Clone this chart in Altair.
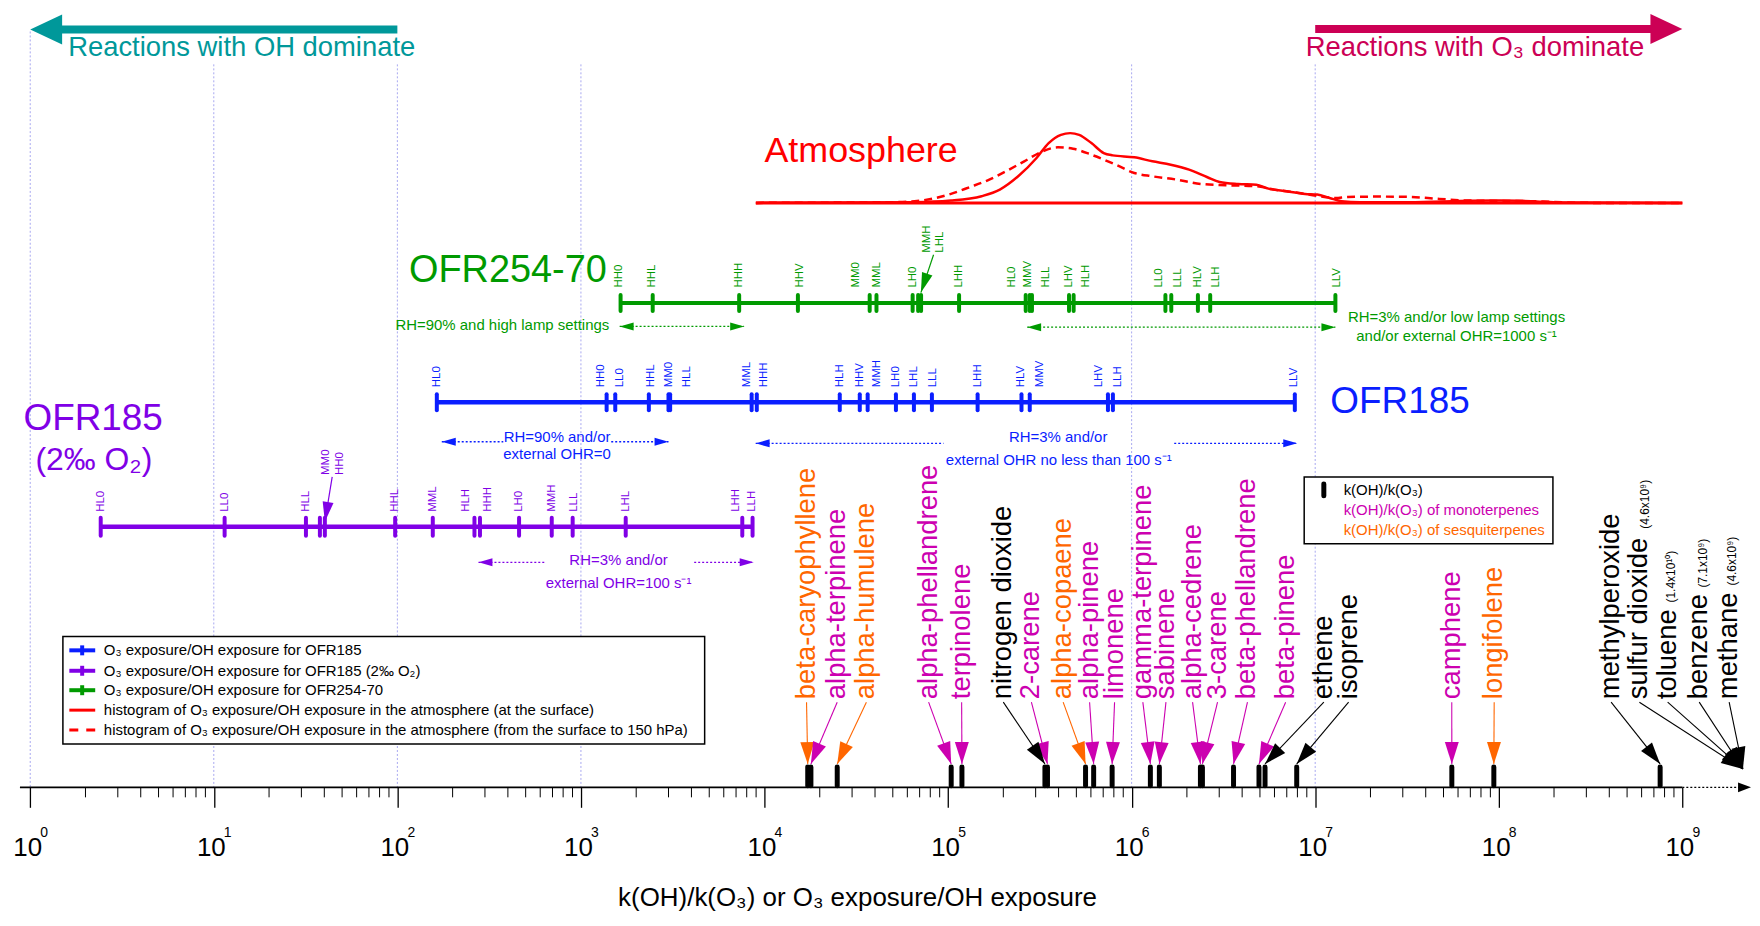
import math
import altair as alt
import pandas as pd

FONT = "Liberation Sans"
TEAL, CRIMSON = "#00989A", "#CC0055"
GREEN, BLUE, PURPLE, RED = "#009A00", "#0A1EFF", "#8000E6", "#FF0000"
MAGENTA, ORANGE, BLACK, GRID = "#CC00B0", "#FF6600", "#000000", "#A8A8F0"

# ---------------- data: log10 of O3 exposure / OH exposure ----------------
OFR254_CASES = ["HH0", "HHL", "HHH", "HHV", "MM0", "MML", "LH0", "MMH", "LHL", "LHH",
                "HL0", "MMV", "HLL", "LHV", "HLH", "LL0", "LLL", "HLV", "LLH", "LLV"]
OFR254_LOG10 = [3.216, 3.391, 3.862, 4.182, 4.573, 4.610, 4.807, 4.837, 4.853, 5.060,
                5.423, 5.445, 5.457, 5.659, 5.684, 6.184, 6.216, 6.361, 6.428, 7.110]

OFR185_CASES = ["HL0", "HH0", "LL0", "HHL", "MM0", "HLL", "MML", "HHH", "HLH", "HHV",
                "MMH", "LH0", "LHL", "LLL", "LHH", "HLV", "MMV", "LHV", "LLH", "LLV"]
OFR185_LOG10 = [2.215, 3.140, 3.187, 3.370, 3.477, 3.486, 3.930, 3.958, 4.410, 4.519,
                4.562, 4.716, 4.814, 4.912, 5.161, 5.400, 5.445, 5.871, 5.898, 6.889]

OFR185O2_CASES = ["HL0", "LL0", "HLL", "MM0", "HH0", "HHL", "MML", "HLH", "HHH", "LH0",
                  "MMH", "LLL", "LHL", "LHH", "LLH"]
OFR185O2_LOG10 = [0.384, 1.059, 1.502, 1.578, 1.605, 1.988, 2.193, 2.420, 2.450, 2.663,
                  2.841, 2.955, 3.244, 3.879, 3.935]

# atmosphere histograms (relative frequency)
ATM_SURF_LOG10 = [3.953, 4.817, 5.016, 5.183, 5.282, 5.382, 5.482, 5.548, 5.615, 5.665,
                  5.714, 5.781, 5.848, 5.897, 6.014, 6.113, 6.213, 6.313, 6.413, 6.479,
                  6.579, 6.679, 6.745, 6.845, 6.945, 7.011, 7.078, 7.144, 7.244, 7.510,
                  7.842, 8.008, 8.175, 8.341, 9.0]
ATM_SURF_FREQ = [0, 0.01, 0.033, 0.096, 0.19, 0.381, 0.643, 0.857, 0.976, 1.0,
                 0.976, 0.857, 0.714, 0.681, 0.653, 0.596, 0.547, 0.476, 0.367, 0.30,
                 0.271, 0.261, 0.204, 0.167, 0.129, 0.119, 0.071, 0.024, 0.01, 0.01,
                 0.029, 0.033, 0.024, 0.004, 0]
ATM_COL_LOG10 = [3.953, 4.684, 4.817, 4.917, 5.016, 5.116, 5.216, 5.315, 5.415, 5.515,
                 5.598, 5.681, 5.781, 5.914, 6.014, 6.113, 6.246, 6.379, 6.512, 6.679,
                 6.778, 6.911, 7.011, 7.111, 7.177, 7.344, 7.510, 7.676, 7.842, 8.175,
                 8.507, 9.0]
ATM_COL_FREQ = [0, 0.01, 0.024, 0.061, 0.129, 0.224, 0.324, 0.453, 0.596, 0.739,
                0.796, 0.776, 0.69, 0.547, 0.429, 0.381, 0.333, 0.271, 0.253, 0.239,
                0.19, 0.143, 0.10, 0.071, 0.086, 0.09, 0.086, 0.057, 0.033, 0.024,
                0, 0]

# k(OH)/k(O3) of compounds
COMPOUNDS = ["beta-caryophyllene", "alpha-terpinene", "alpha-humulene", "alpha-phellandrene",
             "terpinolene", "nitrogen dioxide", "2-carene", "alpha-copaene", "alpha-pinene",
             "limonene", "gamma-terpinene", "sabinene", "alpha-cedrene", "3-carene",
             "beta-phellandrene", "beta-pinene", "ethene", "isoprene", "camphene",
             "longifolene", "methylperoxide", "sulfur dioxide", "toluene", "benzene", "methane"]
COMPOUND_RATIO = [1.72e4, 1.79e4, 2.49e4, 1.04e5, 1.19e5, 3.37e5, 3.48e5, 5.61e5, 6.21e5,
                  7.83e5, 1.265e6, 1.416e6, 2.37e6, 2.43e6, 3.59e6, 4.94e6, 5.33e6, 7.93e6,
                  5.55e7, 9.40e7, 7.57e8, 4.6e9, 1.4e10, 7.1e9, 4.6e9]
COMPOUND_CLASS = ["sesq", "mono", "sesq", "mono", "mono", "other", "mono", "sesq", "mono",
                  "mono", "mono", "mono", "mono", "mono", "mono", "mono", "other", "other",
                  "mono", "sesq", "other", "other", "other", "other", "other"]
OFFSCALE_NOTE = {"sulfur dioxide": "(4.6x10⁹)", "toluene": "(1.4x10¹⁰)",
                 "benzene": "(7.1x10⁹)", "methane": "(4.6x10⁹)"}

# ---------------- layout (label placement, log10 units / page px) ----------------
OFR254_LABEL_AT = [3.205, 3.386, 3.862, 4.193, 4.501, 4.613, 4.807, 4.888, 4.957, 5.060,
                   5.346, 5.437, 5.536, 5.659, 5.749, 6.151, 6.251, 6.360, 6.459, 7.119]
OFR185_LABEL_AT = [2.215, 3.111, 3.211, 3.382, 3.482, 3.578, 3.907, 3.998, 4.410, 4.519,
                   4.613, 4.716, 4.814, 4.917, 5.165, 5.400, 5.499, 5.822, 5.925, 6.884]
OFR185O2_LABEL_AT = [0.384, 1.059, 1.502, 1.610, 1.686, 1.988, 2.193, 2.375, 2.496, 2.664,
                     2.841, 2.963, 3.244, 3.846, 3.933]
COMPOUND_LABEL_AT = [4.229, 4.396, 4.555, 4.894, 5.074, 5.301, 5.454, 5.627, 5.771, 5.907,
                     6.061, 6.187, 6.332, 6.468, 6.631, 6.839, 7.047, 7.182, 7.744, 7.975,
                     8.612, 8.766, 8.920, 9.092, 9.255]
NOTE_AT = {"sulfur dioxide": (8.794, 529), "toluene": (8.938, 603),
           "benzene": (9.110, 588), "methane": (9.273, 586)}
GRID_DECADES = [0, 1, 2, 3, 6, 7]

W, H = 1750, 904
X0, DEC = 30.3, 184.2          # page px of 10^0, px per decade


def px(e):
    return X0 + DEC * e


XS = alt.Scale(type="log", domain=[10 ** ((8 - X0) / DEC), 10 ** ((8 + W - X0) / DEC)], nice=False)
YS = alt.Scale(domain=[8, 8 + H], range=[0, H], nice=False, zero=False)
HS = alt.Scale(domain=[0, 1], range=[194, 124], nice=False, zero=False)

AX = alt.Axis(values=[10 ** k for k in range(10)], domain=False, grid=False, ticks=True,
              tickSize=20, tickWidth=1.3, tickColor=BLACK, labelExpr="'10'", labelFont=FONT,
              labelFontSize=26, labelColor=BLACK, labelPadding=48, labelBaseline="alphabetic",
              labelOffset=-3, labelFlush=False, labelOverlap=False, labelBound=False,
              offset=-(H - (788.5 - 8)),
              title="k(OH)/k(O₃) or O₃ exposure/OH exposure", titleFont=FONT, titleFontSize=26,
              titleFontWeight="normal", titleColor=BLACK, titleX=852, titleY=118.5,
              titleAlign="center", titleBaseline="alphabetic")

layers = []


def X(f="x"):
    return alt.X(f"{f}:Q", scale=XS, axis=AX)


def Y(f="y", scale=YS):
    return alt.Y(f"{f}:Q", scale=scale, axis=None)


def segs(rows, color, width, dash=None, cap="butt"):
    df = pd.DataFrame(rows, columns=["x", "x2", "y", "y2"])
    df["x"] = 10.0 ** df["x"]
    df["x2"] = 10.0 ** df["x2"]
    kw = dict(color=color, strokeWidth=width, strokeCap=cap)
    if dash:
        kw["strokeDash"] = dash
    layers.append(alt.Chart(df).mark_rule(**kw).encode(x=X(), x2="x2:Q", y=Y(), y2="y2:Q"))


def heads(rows, color, length, width):
    a = width / length
    shape = f"M0,0L{-a:.3f},2L{a:.3f},2Z"
    df = pd.DataFrame(rows, columns=["x", "y", "ang"])
    df["x"] = 10.0 ** df["x"]
    layers.append(alt.Chart(df).mark_point(shape=shape, size=length ** 2, filled=True, opacity=1,
                                           strokeWidth=0, color=color)
                  .encode(x=X(), y=Y(), angle=alt.Angle("ang:Q", scale=None)))


def texts(rows, size, color, angle=0, align="center", baseline="middle", dx=0):
    df = pd.DataFrame(rows, columns=["x", "y", "t"])
    df["x"] = 10.0 ** df["x"]
    enc = dict(x=X(), y=Y(), text="t:N")
    kw = dict(font=FONT, fontSize=size, align=align, baseline=baseline)
    if angle:
        kw["angle"] = angle
    if dx:
        kw["dx"] = dx
    if isinstance(color, list):
        df["c"] = color
        enc["color"] = alt.Color("c:N", scale=None)
    else:
        kw["color"] = color
    layers.append(alt.Chart(df).mark_text(**kw).encode(**enc))


def direction(x1, y1, x2, y2):
    return math.degrees(math.atan2(px(x2) - px(x1), -(y2 - y1))) % 360


def box(x1, x2, y1, y2):
    df = pd.DataFrame({"x": [10 ** x1], "x2": [10 ** x2], "y": [y1], "y2": [y2]})
    layers.append(alt.Chart(df).mark_rect(fill="white", stroke="black", strokeWidth=1.5)
                  .encode(x=X(), x2="x2:Q", y=Y(), y2="y2:Q"))


def dotted_double(x_left, x_mid1, x_mid2, x_right, y, color):
    rows = []
    if x_mid1 is None:
        rows.append((x_left, x_right, y, y))
    else:
        rows += [(x_left, x_mid1, y, y), (x_mid2, x_right, y, y)]
    segs(rows, color, 1.3, dash=[2, 2])
    heads([(x_left, y, 270), (x_right, y, 90)], color, 14, 8)


def ofr_row(vals, cases, label_at, raised, y, color, half, lw, lab_y, raised_y, raised_arrow):
    segs([(min(vals), max(vals), y, y)], color, lw)
    segs([(v, v, y - half, y + half) for v in vals], color, 4, cap="round")
    texts([(lx, lab_y, c) for lx, c in zip(label_at, cases) if c not in raised], 11.5, color,
          angle=270, align="left")
    if raised:
        texts([(lx, raised_y, c) for lx, c in zip(label_at, cases) if c in raised], 11.5, color,
              angle=270, align="left")
        x1, y1, x2, y2 = raised_arrow
        segs([(x1, x2, y1, y2)], color, 1.2)
        heads([(x2, y2, direction(x1, y1, x2, y2))], color, 20, 11)


# ---------------- build ----------------
# axis: minor ticks as rules (major ticks + labels come from the x axis)
minor = [k + math.log10(m) for k in range(9) for m in range(2, 10)]
mdf = pd.DataFrame({"x": [10 ** v for v in minor], "y": 788.5, "y2": 798.5})
layers.append(alt.Chart(mdf).mark_rule(color=BLACK, strokeWidth=1)
              .encode(x=X(), y=Y(), y2="y2:Q"))

segs([(d, d, 30 if d == 0 else 63, 788) for d in GRID_DECADES], GRID, 1, dash=[2, 2])
box(0.178, 3.674, 637, 745)
box(6.940, 8.295, 477, 544)

# top arrows
segs([(2.0, 0.17, 28, 28)], TEAL, 8)
heads([(0.0, 28, 270)], TEAL, 32, 30)
texts([(1.152, 47, "Reactions with OH dominate")], 27.5, TEAL)
segs([(7.0, 8.83, 27.5, 27.5)], CRIMSON, 8)
heads([(9.0, 27.5, 90)], CRIMSON, 32, 30)
texts([(7.870, 47, "Reactions with O₃ dominate")], 27.5, CRIMSON)

# atmosphere
segs([(3.953, 9.0, 202, 202)], RED, 3)
atm_s = pd.DataFrame({"x": [10 ** v for v in ATM_SURF_LOG10], "f": ATM_SURF_FREQ})
atm_c = pd.DataFrame({"x": [10 ** v for v in ATM_COL_LOG10], "f": ATM_COL_FREQ})
layers.append(alt.Chart(atm_c).mark_line(color=RED, strokeWidth=2.5, strokeDash=[8, 5],
                                         interpolate="monotone")
              .encode(x=X(), y=Y("f", HS)))
layers.append(alt.Chart(atm_s).mark_line(color=RED, strokeWidth=2.5, interpolate="monotone")
              .encode(x=X(), y=Y("f", HS)))
texts([(4.526, 150, "Atmosphere")], 36, RED)

# OFR254-70
ofr_row(OFR254_LOG10, OFR254_CASES, OFR254_LABEL_AT, {"MMH", "LHL"}, 302.5, GREEN, 8, 4,
        287, 252, (4.921, 254, 4.852, 292))
texts([(2.602, 270, "OFR254-70")], 38, GREEN)
texts([(2.572, 325, "RH=90% and high lamp settings")], 15, GREEN)
dotted_double(3.211, None, None, 3.889, 326, GREEN)
dotted_double(5.431, None, None, 7.110, 326.7, GREEN)
texts([(7.77, 316.5, "RH=3% and/or low lamp settings"),
       (7.77, 335.6, "and/or external OHR=1000 s⁻¹")], 15, GREEN)

# OFR185
ofr_row(OFR185_LOG10, OFR185_CASES, OFR185_LABEL_AT, set(), 402, BLUE, 8, 4.5,
        387, 0, None)
texts([(7.462, 402, "OFR185")], 37, BLUE)
texts([(2.870, 437, "RH=90% and/or"), (2.870, 454, "external OHR=0")], 15, BLUE)
dotted_double(2.242, 2.577, 3.165, 3.477, 441.7, BLUE)
texts([(5.600, 437, "RH=3% and/or"), (5.603, 460, "external OHR no less than 100 s⁻¹")], 15, BLUE)
dotted_double(3.952, 4.975, 6.232, 6.902, 443.3, BLUE)

# OFR185 (2 permil O2)
ofr_row(OFR185O2_LOG10, OFR185O2_CASES, OFR185O2_LABEL_AT, {"MM0", "HH0"}, 527, PURPLE, 9, 4.5,
        512, 475, (1.645, 477, 1.605, 522))
texts([(0.343, 418.5, "OFR185")], 37, PURPLE)
texts([(0.347, 460, "(2‰ O₂)")], 32, PURPLE)
texts([(3.205, 560, "RH=3% and/or"), (3.205, 583.3, "external OHR=100 s⁻¹")], 15, PURPLE)
dotted_double(2.442, 2.807, 3.617, 3.941, 562.7, PURPLE)

# compounds
CLASS_COLOR = {"sesq": ORANGE, "mono": MAGENTA, "other": BLACK}
X_END = 9.33
for cls, col in CLASS_COLOR.items():
    lines, hd = [], []
    for name, r, c, lx in zip(COMPOUNDS, COMPOUND_RATIO, COMPOUND_CLASS, COMPOUND_LABEL_AT):
        if c != cls:
            continue
        v = math.log10(r)
        tx, ty = (v, 765) if v < 9 else (X_END, 770)
        lines.append((lx, tx, 703, ty))
        hd.append((tx, ty, direction(lx, 703, tx, ty)))
    segs(lines, col, 1.1)
    heads(hd, col, 22, 14)
segs([(math.log10(r), math.log10(r), 768, 787) for r in COMPOUND_RATIO if r < 1e9], BLACK, 5,
     cap="round")
texts([(lx, 700, n) for n, lx in zip(COMPOUNDS, COMPOUND_LABEL_AT)], 27.5,
      [CLASS_COLOR[c] for c in COMPOUND_CLASS], angle=270, align="left")
texts([(NOTE_AT[n][0], NOTE_AT[n][1], t) for n, t in OFFSCALE_NOTE.items()], 12, BLACK,
      angle=270, align="left")

# left legend
LEG_Y = [651, 671.5, 691, 711, 731]
for yy, col in zip(LEG_Y[:3], [BLUE, PURPLE, GREEN]):
    segs([(0.213, 0.354, yy, yy)], col, 4)
    segs([(0.283, 0.283, yy - 5, yy + 5)], col, 4)
segs([(0.213, 0.354, LEG_Y[3], LEG_Y[3])], RED, 3)
segs([(0.213, 0.354, LEG_Y[4], LEG_Y[4])], RED, 3, dash=[9, 8])
texts([(0.401, LEG_Y[0], "O₃ exposure/OH exposure for OFR185"),
       (0.401, LEG_Y[1], "O₃ exposure/OH exposure for OFR185 (2‰ O₂)"),
       (0.401, LEG_Y[2], "O₃ exposure/OH exposure for OFR254-70"),
       (0.401, LEG_Y[3], "histogram of O₃ exposure/OH exposure in the atmosphere (at the surface)"),
       (0.401, LEG_Y[4], "histogram of O₃ exposure/OH exposure in the atmosphere (from the surface to 150 hPa)")],
      15, BLACK, align="left")

# right legend
segs([(7.047, 7.047, 484, 496)], BLACK, 5, cap="round")
texts([(7.155, 490, "k(OH)/k(O₃)"), (7.155, 510, "k(OH)/k(O₃) of monoterpenes"),
       (7.155, 530, "k(OH)/k(O₃) of sesquiterpenes")], 15, [BLACK, MAGENTA, ORANGE], align="left")

# bottom axis line (solid to 10^9, dotted beyond, arrow)
segs([(-0.056, 9.0, 788.5, 788.5)], BLACK, 1.6)
segs([(9.0, 9.33, 788.5, 788.5)], BLACK, 1.3, dash=[2, 2])
heads([(9.374, 788.5, 90)], BLACK, 13, 10)

# exponent superscripts for the "10" tick labels
texts([(k, 834, str(k)) for k in range(10)], 14, BLACK, dx=14)

chart = (alt.layer(*layers)
         .resolve_scale(y="independent")
         .properties(width=W, height=H, autosize=alt.AutoSizeParams(type="none"), padding=0,
                     background="white")
         .configure(font=FONT)
         .configure_view(strokeWidth=0, stroke="transparent"))

chart.save("out.html", embed_options={"renderer": "svg", "actions": False})
